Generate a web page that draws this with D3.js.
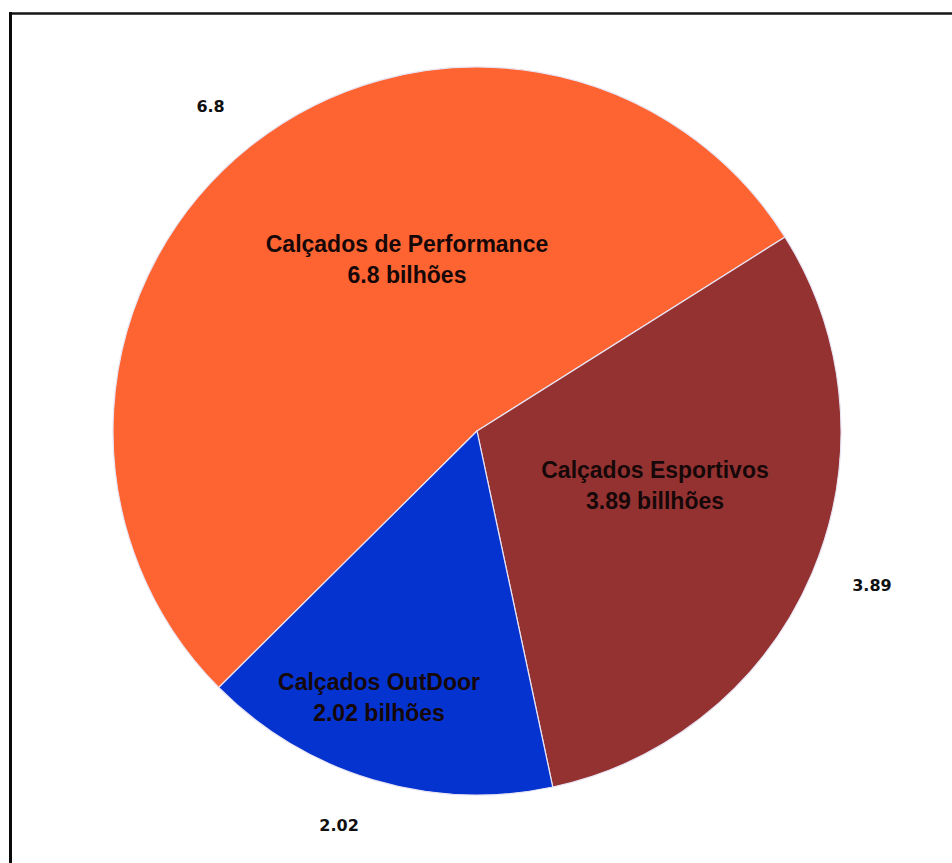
<!DOCTYPE html>
<html>
<head>
<meta charset="utf-8">
<script src="https://cdn.jsdelivr.net/npm/d3@7"></script>
<style>
  html, body { margin: 0; padding: 0; background: #fff; }
  svg { display: block; }
</style>
</head>
<body>
<svg id="chart" width="952" height="863"></svg>
<script>
// Sales by footwear segment (billions)
const categories = ["Calçados de Performance", "Calçados Esportivos", "Calçados OutDoor"];
const values = [6.8, 3.89, 2.02];
const valueLabels = ["6.8", "3.89", "2.02"];
const unitLabels = ["bilhões", "billhões", "bilhões"];
const colors = ["#FE6432", "#943232", "#0433D0"];

// Layout: pie geometry and label placement (relative to pie centre)
const cx = 477, cy = 431, radius = 364;
const startDeg = -134.8;
const innerLabelOffsets = [[-70, -179], [178, 47], [-98, 259]];
const outerLabelNudges = [[-5, 4], [8, -9], [-18, -8]];
const outerLabelRadius = 420;

const svg = d3.select("#chart");

// Partial frame (top and left rules)
svg.append("line")
  .attr("x1", 9).attr("x2", 952).attr("y1", 13.5).attr("y2", 13.5)
  .attr("stroke", "#151515").attr("stroke-width", 2.5);
svg.append("line")
  .attr("x1", 10.5).attr("x2", 10.5).attr("y1", 12).attr("y2", 863)
  .attr("stroke", "#0a0a0a").attr("stroke-width", 3);

const data = categories.map((c, i) => ({ name: c, value: values[i], label: valueLabels[i], unit: unitLabels[i], color: colors[i] }));

const start = startDeg * Math.PI / 180;
const pie = d3.pie()
  .value(d => d.value)
  .sort(null)
  .startAngle(start)
  .endAngle(start + 2 * Math.PI);

const arcs = pie(data);

const arc = d3.arc().innerRadius(0).outerRadius(radius);
const labelArc = d3.arc().innerRadius(outerLabelRadius).outerRadius(outerLabelRadius);

const g = svg.append("g").attr("transform", `translate(${cx},${cy})`);

g.selectAll("path.slice")
  .data(arcs)
  .join("path")
  .attr("class", "slice")
  .attr("d", arc)
  .attr("fill", d => d.data.color)
  .attr("stroke", "#e8e4f4")
  .attr("stroke-width", 1.2)
  .attr("stroke-linejoin", "round");

// Category labels inside slices
const inner = g.selectAll("text.inner")
  .data(arcs)
  .join("text")
  .attr("class", "inner")
  .attr("text-anchor", "middle")
  .attr("font-family", "'Liberation Sans', Arial, sans-serif")
  .attr("font-weight", "bold")
  .attr("font-size", 23)
  .attr("fill", "#160808")
  .attr("transform", (d, i) => `translate(${innerLabelOffsets[i][0]},${innerLabelOffsets[i][1]})`);

inner.append("tspan")
  .attr("x", 0).attr("y", 0)
  .text(d => d.data.name);
inner.append("tspan")
  .attr("x", 0).attr("y", 31)
  .text(d => `${d.data.label} ${d.data.unit}`);

// Value labels outside the pie
g.selectAll("text.outer")
  .data(arcs)
  .join("text")
  .attr("class", "outer")
  .attr("text-anchor", "middle")
  .attr("dominant-baseline", "central")
  .attr("font-family", "'Comic Sans MS', 'DejaVu Sans', sans-serif")
  .attr("font-weight", "bold")
  .attr("font-size", 16)
  .attr("fill", "#111")
  .attr("transform", (d, i) => {
    const [x, y] = labelArc.centroid(d);
    return `translate(${x + outerLabelNudges[i][0]},${y + outerLabelNudges[i][1]})`;
  })
  .text(d => d.data.label);
</script>
</body>
</html>
